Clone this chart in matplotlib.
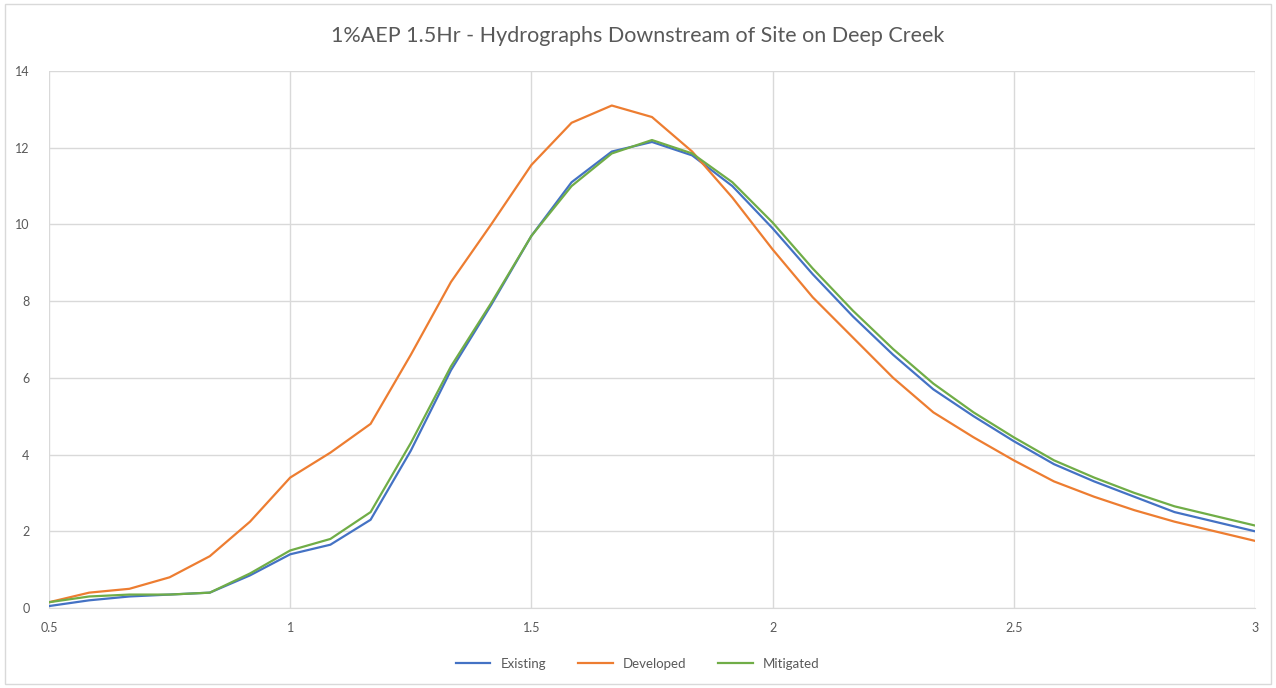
import numpy as np
import matplotlib.pyplot as plt
from matplotlib.patches import Rectangle

plt.rcParams['font.family'] = ['Lato', 'DejaVu Sans']

# Time (hr) at 5-minute steps
time_hr = [0.5 + k / 12 for k in range(31)]

existing = [0.05, 0.2, 0.3, 0.35, 0.4, 0.85, 1.4, 1.65, 2.3, 4.1,
            6.2, 7.9, 9.7, 11.1, 11.9, 12.15, 11.8, 11.0, 9.9, 8.7,
            7.6, 6.6, 5.7, 5.0, 4.35, 3.75, 3.3, 2.9, 2.5, 2.25, 2.0]
developed = [0.15, 0.4, 0.5, 0.8, 1.35, 2.25, 3.4, 4.05, 4.8, 6.6,
             8.5, 10.0, 11.55, 12.65, 13.1, 12.8, 11.9, 10.7, 9.35, 8.1,
             7.05, 6.0, 5.1, 4.45, 3.85, 3.3, 2.9, 2.55, 2.25, 2.0, 1.75]
mitigated = [0.15, 0.3, 0.35, 0.35, 0.4, 0.9, 1.5, 1.8, 2.5, 4.3,
             6.3, 7.95, 9.7, 11.0, 11.85, 12.2, 11.85, 11.1, 10.05, 8.85,
             7.75, 6.75, 5.85, 5.1, 4.45, 3.85, 3.4, 3.0, 2.65, 2.4, 2.15]

series_names = ['Existing', 'Developed', 'Mitigated']
series_colors = ['#4472C4', '#ED7D31', '#70AD47']

fig = plt.figure(figsize=(12.76, 6.88), dpi=100)
ax = fig.add_axes([0.0384, 0.1163, 0.9451, 0.7805])

for vals, name, col in zip([existing, developed, mitigated], series_names, series_colors):
    ax.plot(time_hr, vals, color=col, lw=1.6, label=name)

ax.set_xlim(0.5, 3)
ax.set_ylim(0, 14)
ax.set_xticks([0.5, 1, 1.5, 2, 2.5, 3])
ax.set_xticklabels(['0.5', '1', '1.5', '2', '2.5', '3'])
ax.set_yticks(range(0, 15, 2))
ax.grid(True, color='#d9d9d9', lw=1)
ax.set_axisbelow(True)
for s in ['top', 'right', 'left']:
    ax.spines[s].set_visible(False)
ax.spines['bottom'].set_color('#d9d9d9')
ax.tick_params(length=0, colors='#595959', labelsize=9)
ax.tick_params(axis='x', pad=10)
ax.tick_params(axis='y', pad=14)

fig.text(0.5, 0.948, '1%AEP 1.5Hr - Hydrographs Downstream of Site on Deep Creek',
         ha='center', va='center', fontsize=15.5, color='#595959')

fig.legend(loc='center', bbox_to_anchor=(0.5, 0.035), ncol=3, frameon=False,
           fontsize=9.5, labelcolor='#595959', handlelength=2.6, columnspacing=2.4)

fig.patches.append(Rectangle((0.004, 0.006), 0.992, 0.988, transform=fig.transFigure,
                             fill=False, edgecolor='#d9d9d9', lw=1))

fig.savefig('out.png', dpi=100)
